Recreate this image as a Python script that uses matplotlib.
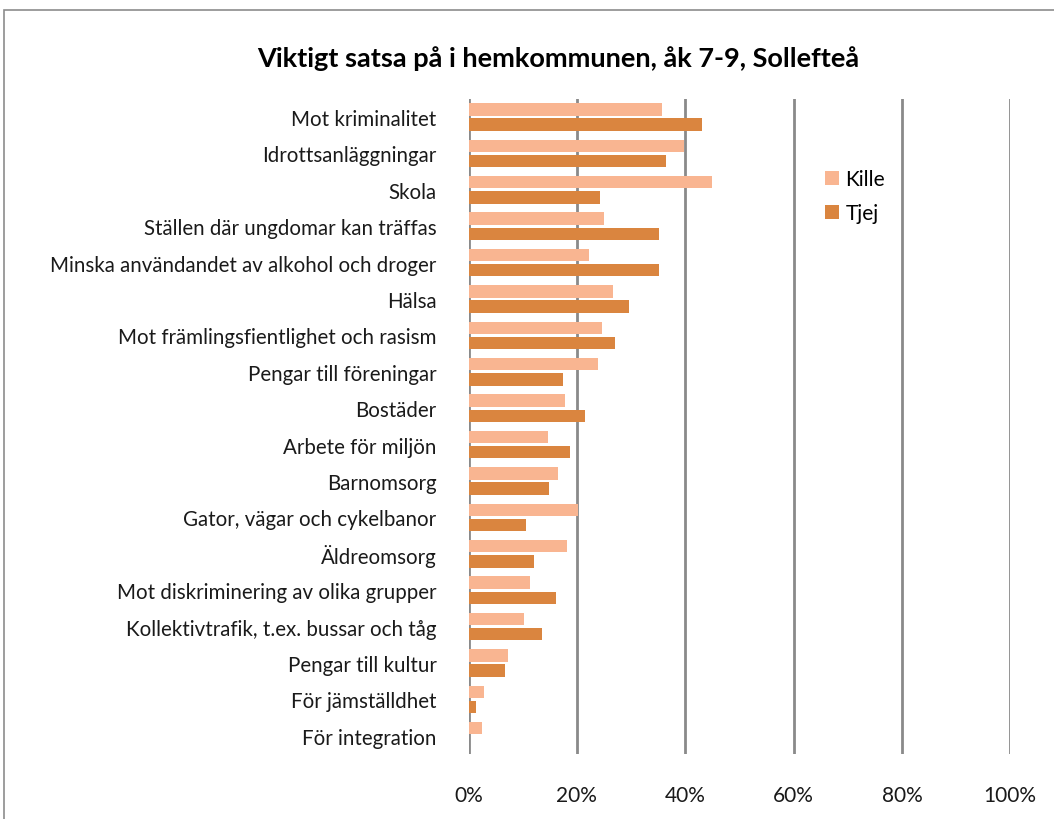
import matplotlib.pyplot as plt
import numpy as np
from matplotlib.patches import Rectangle

kategorier = [
    "Mot kriminalitet",
    "Idrottsanläggningar",
    "Skola",
    "Ställen där ungdomar kan träffas",
    "Minska användandet av alkohol och droger",
    "Hälsa",
    "Mot främlingsfientlighet och rasism",
    "Pengar till föreningar",
    "Bostäder",
    "Arbete för miljön",
    "Barnomsorg",
    "Gator, vägar och cykelbanor",
    "Äldreomsorg",
    "Mot diskriminering av olika grupper",
    "Kollektivtrafik, t.ex. bussar och tåg",
    "Pengar till kultur",
    "För jämställdhet",
    "För integration",
]

# andelar i procent
kille = [35.7, 39.8, 45.0, 25.1, 22.3, 26.7, 24.7, 23.9, 17.8, 14.6,
         16.6, 20.2, 18.2, 11.3, 10.2, 7.3, 2.8, 2.4]
tjej = [43.1, 36.5, 24.3, 35.1, 35.1, 29.6, 27.0, 17.5, 21.5, 18.8,
        14.9, 10.7, 12.1, 16.2, 13.5, 6.7, 1.3, 0.0]

xticks = [0, 20, 40, 60, 80, 100]

plt.rcParams['font.family'] = ['Lato', 'DejaVu Sans']

fig = plt.figure(figsize=(10.54, 8.2), dpi=100)
ax = fig.add_axes([0.4445, 0.0793, 0.514, 0.799])

# yttre ram runt diagrammet
fig.patches.append(Rectangle((4 / 1054, -0.05), 1.2, (820 - 11) / 820 + 0.05,
                             transform=fig.transFigure, fill=False,
                             edgecolor='#8c8c8c', linewidth=1.2))

y = np.arange(len(kategorier))
h = 0.34
ax.barh(y - 0.21, kille, height=h, color='#F9B591', label='Kille', zorder=3)
ax.barh(y + 0.21, tjej, height=h, color='#DA853F', label='Tjej', zorder=3)

ax.set_xlim(0, 100)
ax.set_ylim(len(kategorier) - 0.5, -0.5)
ax.set_xticks(xticks)
ax.set_xticklabels([f"{v}%" for v in xticks])
ax.set_yticks(y)
ax.set_yticklabels(kategorier)
ax.tick_params(axis='both', length=0, colors='#1a1a1a')
ax.tick_params(axis='y', labelsize=14.8, pad=23)
ax.tick_params(axis='x', labelsize=15, pad=22)

for v in xticks:
    ax.axvline(v, color='#8a8a8a', linewidth=2, zorder=1)

for s in ax.spines.values():
    s.set_visible(False)

fig.text(0.53, 0.929, "Viktigt satsa på i hemkommunen, åk 7-9, Sollefteå",
         ha='center', va='center', fontsize=19.5, fontweight='bold')

ax.legend(loc='upper left', bbox_to_anchor=(0.623, 0.921), frameon=False,
          fontsize=15, handlelength=0.7, handleheight=0.7,
          handletextpad=0.3, labelspacing=0.68)

fig.savefig('out.png', dpi=100)
